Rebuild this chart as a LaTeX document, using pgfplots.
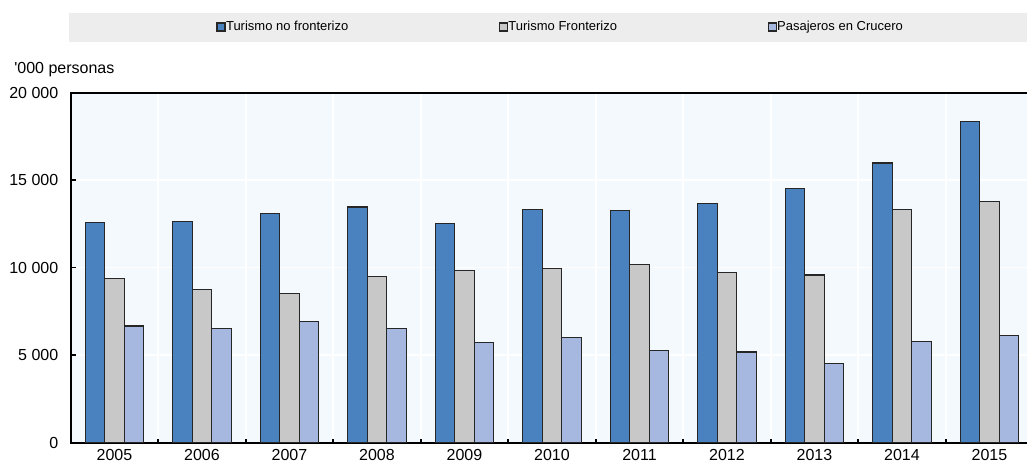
\documentclass[border=0pt]{standalone}
\usepackage{fontspec}
\setmainfont{Liberation Sans}
\newfontfamily\plainsans{Liberation Sans}
\usepackage{pgfplots}
\pgfplotsset{compat=1.18}
\definecolor{oblue}{HTML}{4A81BF}
\definecolor{ogray}{HTML}{C8C8C8}
\definecolor{olight}{HTML}{A6B8E0}
\definecolor{plotbg}{HTML}{F4F9FD}
\definecolor{legbg}{HTML}{EDEDED}

\begin{document}
\begin{tikzpicture}
% the reference is cut off at the right, inside the last category
\useasboundingbox (-35.35pt,-11.15pt) rectangle (478.15pt,221.35pt);
\clip (-35.35pt,-11.15pt) rectangle (478.15pt,221.35pt);
\fill[legbg] (-0.85pt,200.5pt) rectangle (490pt,215pt);
\begin{axis}[
    scale only axis,
    width=481.25pt, height=175pt,
    ybar=0pt, bar width=9.7pt,
    xmin=-0.5, xmax=10.5,
    ymin=0, ymax=20000,
    axis background/.style={fill=plotbg},
    axis line style={black, line width=0.85pt},
    xtick={0,...,10},
    xticklabels={2005,2006,2007,2008,2009,2010,2011,2012,2013,2014,2015},
    minor xtick={-0.5,0.5,...,10.5},
    ytick={0,5000,10000,15000,20000},
    scaled y ticks=false,
    tick pos=left,
    tick align=inside,
    major tick length=2.5pt,
    minor tick length=2pt,
    major x tick style={draw=none},
    minor x tick style={black, line width=0.8pt},
    y tick style={black, line width=0.8pt},
    ymajorgrids, xminorgrids,
    major grid style={white, line width=0.8pt},
    minor grid style={white, line width=0.8pt},
    tick label style={font=\fontsize{8}{9.6}\selectfont},
    yticklabel style={xshift=-2.7pt},
    /pgf/number format/assume math mode=true,
    /pgf/number format/1000 sep={\ },
    legend columns=3,
    legend style={draw=none, fill=none, at={(0.151,1.1877)}, anchor=west,
        inner sep=0pt, font=\fontsize{6.5}{7.8}\selectfont,
        nodes={inner xsep=0.25pt, inner ysep=0pt},
        /tikz/every even column/.append style={column sep=75pt}},
    legend image code/.code={\draw[#1] (0pt,-2pt) rectangle (4pt,2pt);},
]
\addplot[fill=oblue, draw=black!85, line width=0.55pt] coordinates {
    (0,12570) (1,12650) (2,13090) (3,13470) (4,12500) (5,13340)
    (6,13260) (7,13660) (8,14550) (9,15980) (10,18370)
};
\addlegendentry{Turismo no fronterizo}
\addplot[fill=ogray, draw=black!85, line width=0.55pt] coordinates {
    (0,9390) (1,8740) (2,8550) (3,9510) (4,9830) (5,9970)
    (6,10170) (7,9710) (8,9580) (9,13340) (10,13790)
};
\addlegendentry{Turismo Fronterizo}
\addplot[fill=olight, draw=black!85, line width=0.55pt] coordinates {
    (0,6670) (1,6500) (2,6940) (3,6500) (4,5710) (5,6020)
    (6,5260) (7,5180) (8,4540) (9,5770) (10,6100)
};
\addlegendentry{Pasajeros en Crucero}
\end{axis}
\node[anchor=west, inner sep=0pt, font=\plainsans\fontsize{8}{9.6}\selectfont]
    at (-28.35pt,186.35pt) {'000 personas};
\end{tikzpicture}
\end{document}
